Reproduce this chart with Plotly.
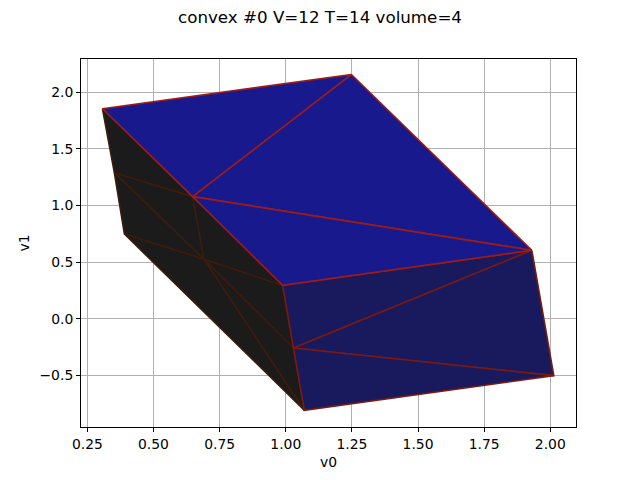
import plotly.graph_objects as go

# projected vertices of the convex hull
v0 = [0.307, 1.248, 1.930, 2.013, 1.070, 0.988, 0.648, 0.390, 0.352, 0.691, 1.029]
v1 = [1.855, 2.157, 0.604, -0.503, -0.809, 0.295, 1.078, 0.748, 1.290, 0.525, -0.259]

# triangles as vertex indices, back faces first
black_tris = [[0, 6, 8], [9, 6, 8], [9, 8, 7], [9, 7, 4], [9, 4, 10], [9, 10, 5], [9, 5, 6]]
navy_tris = [[5, 2, 10], [2, 3, 10], [10, 3, 4]]
blue_tris = [[0, 1, 6], [1, 2, 6], [6, 2, 5]]

black_fill, black_edge = "#1b1b1b", "#3c1c0c"
navy_fill, navy_edge = "#191a5e", "#7a1a10"
blue_fill, blue_edge = "#19198e", "#9c1c16"

fig = go.Figure()


def add_tris(tris, fill, edge):
    for t in tris:
        xs = [v0[i] for i in t] + [v0[t[0]]]
        ys = [v1[i] for i in t] + [v1[t[0]]]
        fig.add_trace(go.Scatter(x=xs, y=ys, mode="lines", fill="toself", fillcolor=fill,
                                 line=dict(color=edge, width=1.6), hoverinfo="skip"))


add_tris(black_tris, black_fill, black_edge)
add_tris(navy_tris, navy_fill, navy_edge)
add_tris(blue_tris, blue_fill, blue_edge)

axis_style = dict(showgrid=True, gridcolor="#b0b0b0", gridwidth=1.2, zeroline=False,
                  showline=True, linecolor="black", linewidth=1, mirror=True,
                  ticks="outside", ticklen=4, tickwidth=1, tickcolor="black",
                  title_font=dict(size=13.9), title_standoff=6)

fig.update_layout(
    title=dict(text="convex #0 V=12 T=14 volume=4", x=0.5, xanchor="center",
               y=1 - 17 / 480, yanchor="middle", font=dict(size=16.7, color="black")),
    width=640, height=480,
    margin=dict(l=81, r=64, t=59, b=53, pad=0),
    paper_bgcolor="white", plot_bgcolor="white",
    showlegend=False,
    font=dict(family="DejaVu Sans", size=13.9, color="black"),
    xaxis=dict(title="v0", range=[0.226, 2.097], tick0=0, dtick=0.25, tickformat=".2f", **axis_style),
    yaxis=dict(title="v1", range=[-0.957, 2.294], tick0=0, dtick=0.5, tickformat=".1f", **axis_style),
)

fig.write_html("out.html", post_script="document.body.style.margin='0';",
               config={"displayModeBar": False})
